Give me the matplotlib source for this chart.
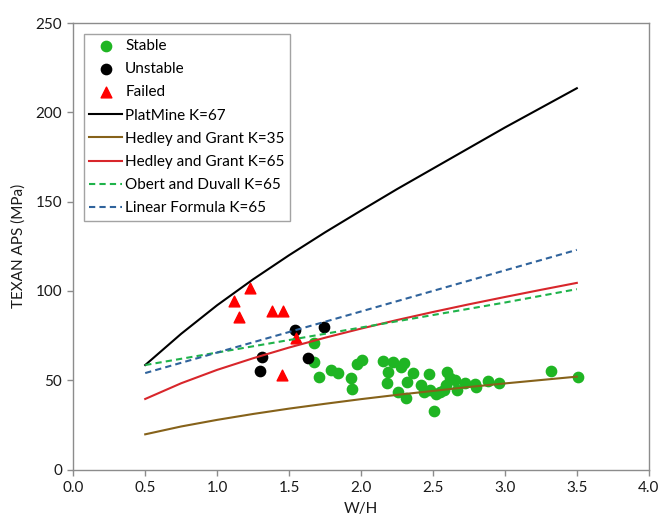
"""
plot.py
-------
Pillar strength vs W/H: observed pillars (stable / unstable / failed)
against several empirical strength formulas.
"""

import matplotlib
matplotlib.use("Agg")
import matplotlib.pyplot as plt

plt.rcParams["font.family"] = ["Lato", "DejaVu Sans"]

# --------------------------------------------------------------------
# Data
# --------------------------------------------------------------------

stable_wh = [1.67, 1.67, 1.71, 1.79, 1.84, 1.93, 1.94, 1.97, 2.01, 2.15,
             2.22, 2.30, 2.28, 2.19, 2.36, 2.18, 2.32, 2.26, 2.31, 2.47,
             2.42, 2.44, 2.48, 2.52, 2.51, 2.60, 2.62, 2.65, 2.59, 2.58,
             2.55, 2.67, 2.72, 2.79, 2.80, 2.88, 2.96, 3.32, 3.51]
stable_aps = [70.7, 60.4, 51.6, 55.7, 54.2, 51.1, 44.9, 58.9, 61.3, 60.9,
              60.4, 59.5, 57.6, 54.8, 53.9, 48.6, 48.8, 43.2, 39.9, 53.5,
              47.3, 43.6, 44.5, 42.3, 32.8, 54.8, 51.1, 50.1, 47.3, 44.5,
              43.6, 44.5, 48.3, 47.9, 46.4, 49.6, 48.3, 55.3, 51.6]

unstable_wh = [1.54, 1.74, 1.31, 1.30, 1.63]
unstable_aps = [78.1, 80.0, 63.2, 55.3, 62.3]

failed_wh = [1.23, 1.12, 1.15, 1.38, 1.46, 1.55, 1.45]
failed_aps = [101.6, 94.5, 85.4, 88.9, 88.9, 73.9, 52.9]

curve_wh = [0.5, 0.75, 1.0, 1.25, 1.5, 1.75, 2.0, 2.25, 2.5, 2.75, 3.0, 3.25, 3.5]
platmine_67 = [58.5, 76, 92, 106.5, 120, 132.8, 145, 157, 168.5, 180, 191.5, 202.5, 213.5]
hedley_35 = [19.7, 24.1, 27.8, 31.1, 34.1, 36.8, 39.4, 41.8, 44.0, 46.2, 48.2, 50.1, 52.0]
hedley_65 = [39.5, 48.3, 55.8, 62.3, 68.3, 73.8, 78.9, 83.7, 88.2, 92.5, 96.6, 100.6, 104.5]

linear_wh = [0.5, 1.0, 1.5, 2.0, 2.5, 3.0, 3.5]
obert_65 = [58.5, 65.5, 72.5, 79.5, 86.5, 93.5, 101]
linear_65 = [54, 65.5, 77, 88.5, 100, 111.5, 123]

x_ticks = [0.0, 0.5, 1.0, 1.5, 2.0, 2.5, 3.0, 3.5, 4.0]
y_ticks = [0, 50, 100, 150, 200, 250]


# --------------------------------------------------------------------
# Plot
# --------------------------------------------------------------------

fig = plt.figure(figsize=(6.62, 5.24), dpi=100)

ax = fig.add_axes([0.1107, 0.104, 0.8693, 0.852])

ax.scatter(stable_wh, stable_aps, s=55, color="#1fb523", label="Stable", zorder=2)

ax.scatter(unstable_wh, unstable_aps, s=55, color="black", label="Unstable", zorder=2)

ax.scatter(failed_wh, failed_aps, s=60, marker="^", color="#ff0000", label="Failed", zorder=2)

ax.plot(curve_wh, platmine_67, color="black", linewidth=1.5, label="PlatMine K=67", zorder=3)

ax.plot(curve_wh, hedley_35, color="#86621a", linewidth=1.5, label="Hedley and Grant K=35", zorder=3)

ax.plot(curve_wh, hedley_65, color="#d8262b", linewidth=1.5, label="Hedley and Grant K=65", zorder=3)

ax.plot(linear_wh, obert_65, color="#1fb34a", linewidth=1.5, linestyle=(0, (3, 2)),
        label="Obert and Duvall K=65", zorder=3)

ax.plot(linear_wh, linear_65, color="#2f639c", linewidth=1.5, linestyle=(0, (3, 2)),
        label="Linear Formula K=65", zorder=3)

ax.set_xlim(0, 4)
ax.set_ylim(0, 250)
ax.set_xticks(x_ticks)
ax.set_xticklabels([f"{v:.1f}" for v in x_ticks])
ax.set_yticks(y_ticks)

for spine in ax.spines.values():
    spine.set_color("#8c8c8c")
    spine.set_linewidth(1.0)

ax.tick_params(direction="out", length=4, width=1.0, color="#8c8c8c",
               labelsize=11, labelcolor="#1a1a1a", pad=4)

ax.set_xlabel("W/H", fontsize=11, color="#1a1a1a", labelpad=5)
ax.set_ylabel("TEXAN APS (MPa)", fontsize=11, color="#1a1a1a", labelpad=7)

legend = ax.legend(loc="upper left", bbox_to_anchor=(0.0, 1.0), borderaxespad=0.7,
                   fontsize=11, frameon=True, fancybox=False, handlelength=2.15,
                   handletextpad=0.2, borderpad=0.35, labelspacing=0.6,
                   scatterpoints=1, edgecolor="#8c8c8c")
legend.get_frame().set_linewidth(1.0)

fig.savefig("out.png", dpi=100)
